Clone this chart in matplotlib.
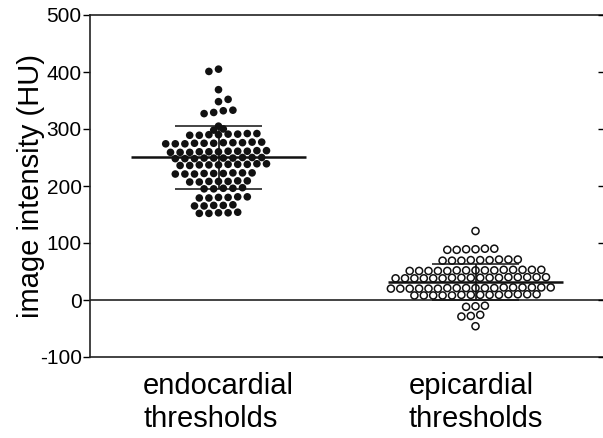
import matplotlib
matplotlib.use("Agg")
import matplotlib.pyplot as plt
import numpy as np

plt.rcParams['font.family'] = ['Liberation Sans', 'DejaVu Sans']
plt.rcParams['axes.unicode_minus'] = False

# categories and values
categories = ['endocardial\nthresholds', 'epicardial\nthresholds']

endo_values = [405, 401,
               369,
               352, 348,
               333, 332, 329, 327,
               305, 300, 298,
               289, 290, 291, 292, 290, 289, 291, 292,
               274, 275, 276, 277, 275, 274, 276, 277, 275, 276, 274,
               259, 260, 261, 262, 260, 259, 261, 262, 260, 261, 259,
               248, 249, 250, 249, 248, 250, 249, 250, 248, 249,
               236, 237, 238, 239, 237, 236, 238, 239, 237, 238,
               221, 222, 223, 222, 221, 223, 222, 221, 223,
               207, 208, 209, 208, 207, 209, 208,
               195, 196, 197, 196, 195,
               179, 180, 181, 180, 179, 181,
               165, 166, 167, 166, 165,
               152, 153, 154, 153, 152]

epi_values = [121,
              88, 89, 90, 89, 88, 90,
              69, 70, 71, 70, 69, 71, 70, 69, 71,
              51, 52, 53, 52, 51, 53, 52, 51, 53, 52, 51, 53, 52, 51, 53,
              38, 39, 40, 39, 38, 40, 39, 38, 40, 39, 38, 40, 39, 38, 40, 39, 38,
              20, 21, 22, 21, 20, 22, 21, 20, 22, 21, 20, 22, 21, 20, 22, 21, 20, 22,
              8, 9, 10, 9, 8, 10, 9, 8, 10, 9, 8, 10, 9, 8,
              -10, -11, -12,
              -26, -28, -29,
              -46]

group_means = [250, 32]
group_sds = [55, 32]


def row_x(ax, x0, values, step_px, gap=5):
    # close values share a row; rows sit on a staggered lattice
    vals = np.asarray(values, dtype=float)
    order = np.argsort(vals, kind='stable')
    rows, cur = [], [order[0]]
    for a, b in zip(order[:-1], order[1:]):
        if vals[b] - vals[a] < gap:
            cur.append(b)
        else:
            rows.append(cur)
            cur = [b]
    rows.append(cur)
    base = ax.transData.transform(np.column_stack([np.full(len(vals), x0), vals]))
    off = np.zeros(len(vals))
    for j, r in enumerate(rows):
        shift = 0.5 * (j % 2) if len(r) > 1 else 0.0
        cands = [m + shift for m in range(-20, 21)]
        cands.sort(key=lambda c: (abs(c), c * (1 if j % 4 < 2 else -1)))
        pos = sorted(cands[:len(r)])
        for idx, p in zip(r, pos):
            off[idx] = p * step_px
    out = ax.transData.inverted().transform(np.column_stack([base[:, 0] + off, base[:, 1]]))
    return out[:, 0]


fig = plt.figure(figsize=(6.03, 4.38), dpi=100)
ax = fig.add_axes([90 / 603, 1 - 357 / 438, 516 / 603, 342 / 438])
ax.set_xlim(-0.5, -0.5 + 516 / 257)
ax.set_ylim(-100, 500)
fig.canvas.draw()

ex = row_x(ax, 0, endo_values, 9.6)
px = row_x(ax, 1, epi_values, 9.4)

ax.scatter(ex, endo_values, s=30, color='#111111', edgecolors='none', zorder=2)
ax.scatter(px, epi_values, s=26, facecolors='none', edgecolors='#111111',
           linewidths=1.1, zorder=2)

for i, (m, sd) in enumerate(zip(group_means, group_sds)):
    ax.hlines(m, i - 0.34, i + 0.34, color='#111111', lw=1.8, zorder=3)
    ax.hlines([m - sd, m + sd], i - 0.17, i + 0.17, color='#111111', lw=1.1, zorder=3)
    ax.vlines(i, m - sd, m + sd, color='#111111', lw=1.2, zorder=3)

ax.axhline(0, color='#222222', lw=1.2, zorder=1)

ax.set_yticks(np.arange(-100, 501, 100))
ax.set_xticks([0, 1])
ax.set_xticklabels(categories, fontsize=21, multialignment='left', linespacing=1.2)
ax.tick_params(axis='x', length=0, pad=11)
ax.tick_params(axis='y', direction='out', length=5, width=1, labelsize=15, pad=1)
ax.set_ylabel('image intensity (HU)', fontsize=21, labelpad=-4)

for sp in ax.spines.values():
    sp.set_linewidth(1.2)
    sp.set_color('#222222')

ax2 = ax.twinx()
ax2.set_ylim(ax.get_ylim())
ax2.set_yticks(np.arange(-100, 501, 100))
ax2.tick_params(axis='y', direction='in', length=6, width=1, labelright=False)
for sp in ax2.spines.values():
    sp.set_visible(False)

fig.savefig('out.png', dpi=100)
